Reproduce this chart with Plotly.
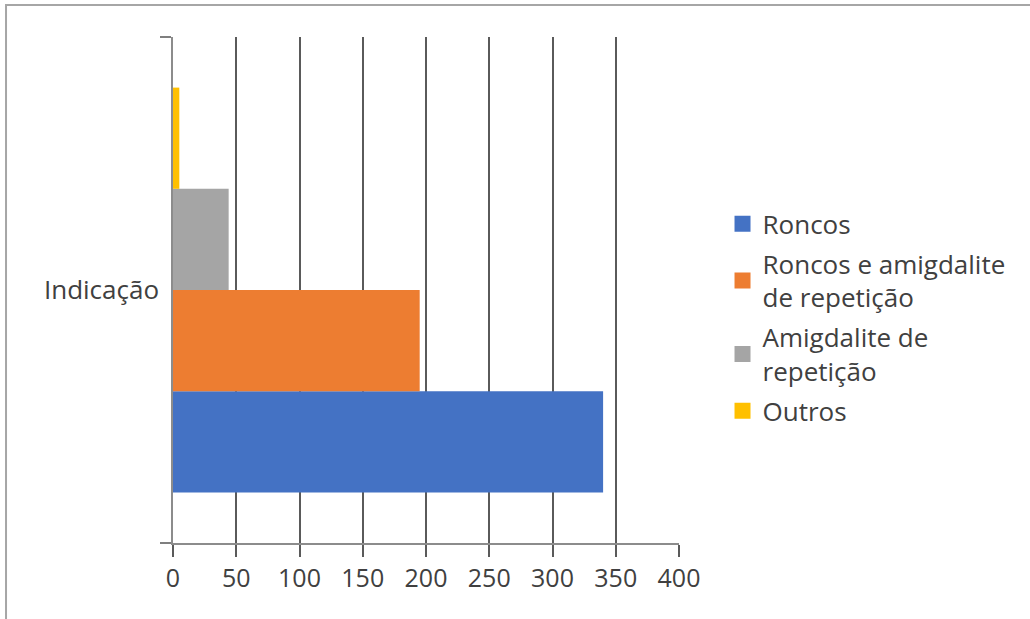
import plotly.graph_objects as go

category = ["Indicação"]
series_names = [
    "Roncos",
    "Roncos e amigdalite<br>de repetição",
    "Amigdalite de<br>repetição",
    "Outros",
]
series_values = [340, 195, 44, 5]
series_colors = ["#4472C4", "#ED7D31", "#A5A5A5", "#FFC000"]
x_ticks = [0, 50, 100, 150, 200, 250, 300, 350, 400]

FONT = "Open Sans"
TEXT = "#404040"

fig = go.Figure()
for i, (name, val, col) in enumerate(zip(series_names, series_values, series_colors)):
    fig.add_trace(go.Bar(
        y=category, x=[val], name=name, orientation="h",
        marker=dict(color=col, line=dict(width=0)),
        legendgroup=f"g{i}", showlegend=False,
    ))
    # square legend key for the series (no data drawn)
    fig.add_trace(go.Scatter(
        x=[None], y=[None], mode="markers", name=name,
        marker=dict(symbol="square", size=16, color=col),
        legendgroup=f"g{i}", showlegend=True, hoverinfo="skip",
    ))

fig.update_layout(
    width=1030, height=619,
    margin=dict(l=173, r=351, t=37, b=76),
    paper_bgcolor="white", plot_bgcolor="white",
    barmode="group", bargap=0.2, bargroupgap=0,
    font=dict(family=FONT, size=26, color=TEXT),
    legend=dict(
        x=1.086, xanchor="left", y=0.446, yanchor="middle",
        font=dict(family=FONT, size=26, color=TEXT),
        tracegroupgap=3, itemwidth=30, itemsizing="trace",
        bgcolor="rgba(0,0,0,0)",
    ),
    showlegend=True,
)

fig.update_xaxes(
    range=[0, 400], tickvals=x_ticks, ticktext=[str(v) for v in x_ticks],
    showgrid=True, gridcolor="#5a5a5a", gridwidth=1.5,
    showline=True, linecolor="#8c8c8c", linewidth=1.5,
    ticks="outside", ticklen=12, tickcolor="#5a5a5a", tickwidth=1.5,
    zeroline=False, fixedrange=True,
    tickfont=dict(family=FONT, size=25, color=TEXT),
)
fig.update_yaxes(
    type="category", tickson="boundaries",
    showgrid=False, zeroline=False,
    showline=True, linecolor="#8c8c8c", linewidth=1.5,
    ticks="outside", ticklen=11, tickcolor="#7f7f7f", tickwidth=1.5,
    tickfont=dict(family=FONT, size=26, color=TEXT),
    ticklabelstandoff=7,
    fixedrange=True,
)

# thin gray frame along the top and left edges of the image
fig.add_shape(
    type="path", xref="paper", yref="paper",
    path="M -0.330 -0.25 L -0.330 1.0632 L 1.8 1.0632",
    line=dict(color="#a6a6a6", width=2),
)

fig.write_html("out.html")
